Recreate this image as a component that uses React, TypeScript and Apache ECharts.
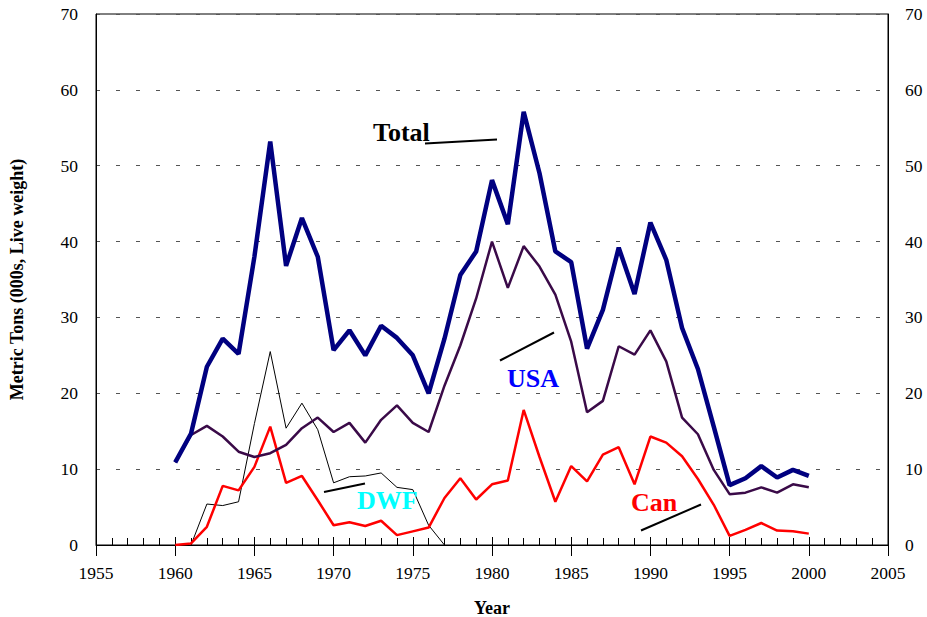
import React, { useEffect, useRef } from "react";
import * as echarts from "echarts";

const years = [1960, 1961, 1962, 1963, 1964, 1965, 1966, 1967, 1968, 1969, 1970, 1971, 1972, 1973, 1974, 1975, 1976, 1977, 1978, 1979, 1980, 1981, 1982, 1983, 1984, 1985, 1986, 1987, 1988, 1989, 1990, 1991, 1992, 1993, 1994, 1995, 1996, 1997, 1998, 1999, 2000];

const totalVals = [10.9, 14.7, 23.5, 27.2, 25.2, 38.0, 53.2, 36.8, 43.1, 38.0, 25.7, 28.3, 25.0, 28.9, 27.3, 25.0, 20.0, 27.2, 35.6, 38.7, 48.1, 42.3, 57.1, 49.0, 38.7, 37.3, 25.9, 31.0, 39.2, 33.1, 42.5, 37.6, 28.6, 23.2, 15.6, 7.9, 8.8, 10.4, 8.9, 9.9, 9.1];

const usaVals = [10.9, 14.5, 15.7, 14.3, 12.3, 11.6, 12.1, 13.2, 15.4, 16.8, 14.9, 16.1, 13.5, 16.5, 18.4, 16.1, 14.9, 21.0, 26.3, 32.5, 40.0, 33.9, 39.4, 36.7, 33.0, 26.8, 17.5, 19.0, 26.2, 25.1, 28.3, 24.2, 16.8, 14.6, 9.9, 6.7, 6.9, 7.6, 6.9, 8.0, 7.6];

const canVals = [0.0, 0.2, 2.4, 7.8, 7.2, 10.3, 15.6, 8.2, 9.1, 5.9, 2.6, 3.0, 2.5, 3.2, 1.3, 1.8, 2.3, 6.2, 8.8, 6.0, 8.0, 8.5, 17.8, 11.6, 5.7, 10.4, 8.4, 11.9, 12.9, 8.0, 14.3, 13.5, 11.7, 8.7, 5.3, 1.2, 2.0, 2.9, 1.9, 1.8, 1.5];

const dwfVals: (number | null)[] = [null, 0.0, 5.4, 5.2, 5.7, 16.0, 25.5, 15.4, 18.7, 15.2, 8.2, 9.0, 9.1, 9.5, 7.6, 7.3, 2.6, 0.0, null, null, null, null, null, null, null, null, null, null, null, null, null, null, null, null, null, null, null, null, null, null, null];

const FONT = "'Liberation Serif', 'Times New Roman', serif";

function pairs(vals: (number | null)[]) {
  const out: [number, number][] = [];
  years.forEach((y, i) => {
    const v = vals[i];
    if (v !== null && v !== undefined) out.push([y, v]);
  });
  return out;
}

export default function App() {
  const ref = useRef<HTMLDivElement>(null);
  useEffect(() => {
    if (!ref.current) return;
    const chart = echarts.init(ref.current, null, { renderer: "svg" });
    const labelStyle = { fontFamily: FONT, fontSize: 17.5, color: "#000" };
    chart.setOption({
      animation: false,
      backgroundColor: "#fff",
      grid: {
        left: 96,
        right: 39,
        top: 14,
        height: 531,
        outerBoundsMode: "none",
        containLabel: false,
        show: true,
        borderColor: "#000",
        borderWidth: 1,
        backgroundColor: "transparent",
      },
      xAxis: [
        {
          type: "value",
          min: 1955,
          max: 2005,
          interval: 5,
          position: "bottom",
          name: "Year",
          nameLocation: "middle",
          nameGap: 54,
          nameTextStyle: { fontFamily: FONT, fontSize: 18, fontWeight: "bold", color: "#000" },
          axisLine: { show: true, onZero: false, lineStyle: { color: "#000", width: 1 } },
          axisTick: { show: true, inside: false, length: 11, lineStyle: { color: "#000" } },
          minorTick: { show: false },
          axisLabel: { ...labelStyle, margin: 19, formatter: (v: number) => String(v) },
          splitLine: { show: false },
        },
        {
          type: "value",
          min: 1955,
          max: 2005,
          interval: 5,
          position: "bottom",
          axisLine: { show: false },
          axisTick: { show: true, inside: true, length: 8, lineStyle: { color: "#000" } },
          minorTick: { show: true, splitNumber: 5, length: 7, lineStyle: { color: "#000" } },
          axisLabel: { show: false },
          splitLine: { show: false },
        },
      ],
      yAxis: [
        {
          type: "value",
          min: 0,
          max: 70,
          interval: 10,
          position: "left",
          name: "Metric Tons (000s, Live weight)",
          nameLocation: "middle",
          nameGap: 79,
          nameRotate: 90,
          nameTextStyle: { fontFamily: FONT, fontSize: 18, fontWeight: "bold", color: "#000", verticalAlign: "middle" },
          axisLine: { show: true, lineStyle: { color: "#000", width: 1 } },
          axisTick: { show: false },
          axisLabel: { ...labelStyle, margin: 18 },
          splitLine: { show: true, lineStyle: { color: "#555", type: [4, 16], width: 1 } },
        },
        {
          type: "value",
          min: 0,
          max: 70,
          interval: 10,
          position: "right",
          axisLine: { show: true, lineStyle: { color: "#000", width: 1 } },
          axisTick: { show: false },
          axisLabel: { ...labelStyle, margin: 17 },
          splitLine: { show: false },
        },
      ],
      series: [
        {
          name: "DWF",
          type: "line",
          data: pairs(dwfVals),
          showSymbol: false,
          symbol: "none",
          lineStyle: { color: "#000", width: 1 },
          z: 2,
        },
        {
          name: "Can",
          type: "line",
          data: pairs(canVals),
          showSymbol: false,
          symbol: "none",
          lineStyle: { color: "#ff0000", width: 2.5 },
          z: 3,
        },
        {
          name: "USA",
          type: "line",
          data: pairs(usaVals),
          showSymbol: false,
          symbol: "none",
          lineStyle: { color: "#3a0a48", width: 2.5 },
          z: 4,
        },
        {
          name: "Total",
          type: "line",
          data: pairs(totalVals),
          showSymbol: false,
          symbol: "none",
          lineStyle: { color: "#000080", width: 4.5 },
          z: 5,
        },
      ],
      graphic: [
        { type: "text", left: 373, top: 119, style: { text: "Total", font: `bold 26px ${FONT}`, fill: "#000" }, z: 10 },
        { type: "line", shape: { x1: 425, y1: 143.5, x2: 497, y2: 139.5 }, style: { stroke: "#000", lineWidth: 2 }, z: 10 },
        { type: "text", left: 507, top: 365, style: { text: "USA", font: `bold 26px ${FONT}`, fill: "#0000ff" }, z: 10 },
        { type: "line", shape: { x1: 500, y1: 360.5, x2: 554, y2: 332.5 }, style: { stroke: "#000", lineWidth: 2 }, z: 10 },
        { type: "text", left: 357, top: 487, style: { text: "DWF", font: `bold 26px ${FONT}`, fill: "#00ffff" }, z: 10 },
        { type: "line", shape: { x1: 324, y1: 492, x2: 365, y2: 483.5 }, style: { stroke: "#000", lineWidth: 2 }, z: 10 },
        { type: "text", left: 631, top: 489, style: { text: "Can", font: `bold 26px ${FONT}`, fill: "#ff0000" }, z: 10 },
        { type: "line", shape: { x1: 641, y1: 530.5, x2: 701, y2: 504.5 }, style: { stroke: "#000", lineWidth: 2 }, z: 10 },
      ],
    });
    return () => chart.dispose();
  }, []);
  return <div ref={ref} style={{ width: 927, height: 617, position: "absolute", left: 0, top: 0 }} />;
}
